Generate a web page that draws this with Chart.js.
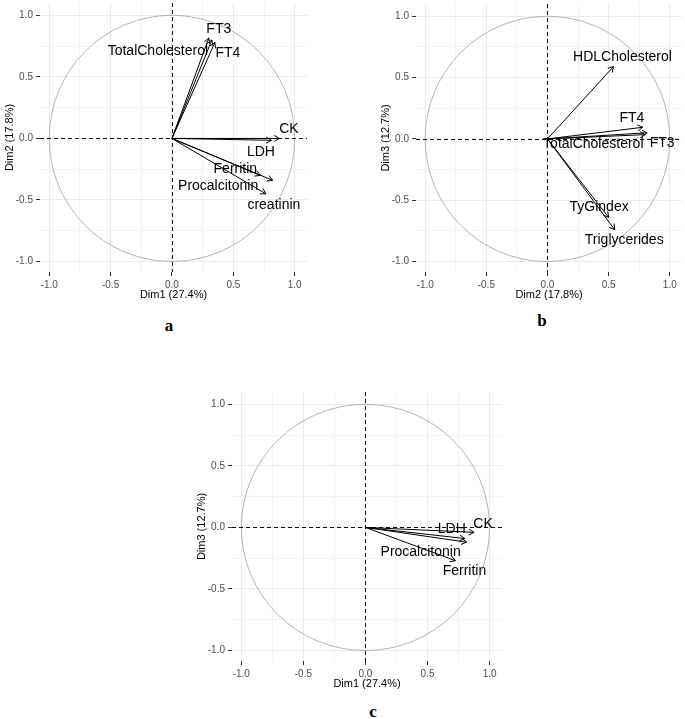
<!DOCTYPE html>
<html>
<head>
<meta charset="utf-8">
<script src="https://cdn.jsdelivr.net/npm/chart.js@4.4.1/dist/chart.umd.min.js"></script>
<style>
  body { margin: 0; background: #fff; width: 685px; height: 719px; position: relative; overflow: hidden; }
  canvas { position: absolute; }
  .tag { position: absolute; width: 30px; text-align: center; line-height: 16px;
         font: bold 17px "Liberation Serif", "Times New Roman", serif; color: #000; }
</style>
</head>
<body>
<canvas id="pa" width="310" height="300" style="left:0;top:0"></canvas>
<canvas id="pb" width="309" height="300" style="left:376px;top:0"></canvas>
<canvas id="pc" width="313" height="300" style="left:192px;top:389px"></canvas>
<div class="tag" style="left:154px;top:316px">a</div>
<div class="tag" style="left:527px;top:311px">b</div>
<div class="tag" style="left:358px;top:702px">c</div>
<script>
// ticks shared by every panel
const majorTicks = [-1, -0.5, 0, 0.5, 1];
const minorTicks = [-0.75, -0.25, 0.25, 0.75];

// panel a: Dim1 vs Dim2
const namesA = ['FT3', 'TotalCholesterol', 'FT4', 'CK', 'LDH', 'Ferritin', 'Procalcitonin', 'creatinin'];
const dim1A = [0.30, 0.325, 0.35, 0.875, 0.81, 0.72, 0.82, 0.765];
const dim2A = [0.815, 0.80, 0.78, 0.00, -0.015, -0.30, -0.34, -0.45];

// panel b: Dim2 vs Dim3
const namesB = ['HDLCholesterol', 'FT4', 'FT3', 'TotalCholesterol', 'TyGindex', 'Triglycerides'];
const dim2B = [0.54, 0.78, 0.815, 0.80, 0.50, 0.55];
const dim3B = [0.59, 0.095, 0.05, 0.035, -0.64, -0.74];

// panel c: Dim1 vs Dim3
const namesC = ['CK', 'LDH', 'Procalcitonin', 'Ferritin'];
const dim1C = [0.875, 0.80, 0.815, 0.725];
const dim3C = [-0.04, -0.09, -0.12, -0.27];

// label placement (pixel offset of label centre from arrow tip)
const labelOffA = [[10, -9], [-54, 11.5], [13, 10.5], [9.5, -9], [-10.5, 11.5], [-25, -6], [-54.5, 6], [8, 11]];
const labelOffB = [[9, -9], [-11, -9.5], [15, 10.5], [-52, 9.5], [-9.5, -10], [9.5, 10.5]];
const labelOffC = [[9, -8], [-13, -9], [-46, 9.5], [9, 10]];

const FONT = '"Liberation Sans", Arial, sans-serif';
const allTicks = majorTicks.concat(minorTicks).sort((a, b) => a - b);
const isMajor = v => majorTicks.some(m => Math.abs(m - v) < 1e-9);

const circlePlugin = {
  id: 'circle',
  beforeDatasetsDraw(chart) {
    const { ctx, chartArea: a, scales: { x, y } } = chart;
    const cx = x.getPixelForValue(0), cy = y.getPixelForValue(0);
    const rx = x.getPixelForValue(1) - cx, ry = cy - y.getPixelForValue(1);
    ctx.save();
    ctx.strokeStyle = '#ABABAB';
    ctx.lineWidth = 0.9;
    ctx.beginPath();
    ctx.ellipse(cx, cy, rx, ry, 0, 0, Math.PI * 2);
    ctx.stroke();
    ctx.strokeStyle = '#111';
    ctx.lineWidth = 1;
    ctx.setLineDash([4, 3]);
    ctx.beginPath();
    ctx.moveTo(a.left, Math.round(cy) + 0.5);
    ctx.lineTo(a.right, Math.round(cy) + 0.5);
    ctx.moveTo(Math.round(cx) + 0.5, a.top);
    ctx.lineTo(Math.round(cx) + 0.5, a.bottom);
    ctx.stroke();
    ctx.restore();
  }
};

const arrowPlugin = {
  id: 'arrows',
  afterDatasetsDraw(chart, args, opts) {
    const { ctx } = chart;
    ctx.save();
    chart.data.datasets.forEach((ds, i) => {
      const pts = chart.getDatasetMeta(i).data;
      const p0 = pts[0], p1 = pts[1];
      const ang = Math.atan2(p1.y - p0.y, p1.x - p0.x);
      const len = 6, spread = Math.PI / 6;
      ctx.strokeStyle = '#000';
      ctx.lineWidth = 1;
      ctx.beginPath();
      ctx.moveTo(p1.x - len * Math.cos(ang - spread), p1.y - len * Math.sin(ang - spread));
      ctx.lineTo(p1.x, p1.y);
      ctx.lineTo(p1.x - len * Math.cos(ang + spread), p1.y - len * Math.sin(ang + spread));
      ctx.stroke();
      const off = opts.offsets[i];
      ctx.fillStyle = '#000';
      ctx.font = '14px ' + FONT;
      ctx.textAlign = 'center';
      ctx.textBaseline = 'middle';
      ctx.fillText(ds.label, p1.x + off[0], p1.y + off[1]);
    });
    ctx.restore();
  }
};

function axis(title, pos) {
  return {
    type: 'linear',
    position: pos,
    min: pos === 'bottom' ? -1.075 : -1.085,
    max: 1.1,
    afterBuildTicks: s => { s.ticks = allTicks.map(v => ({ value: v })); },
    afterFit: s => {
      if (pos === 'bottom') s.height = 28; else s.width = 40;
      s.paddingTop = 0; s.paddingBottom = 0; s.paddingLeft = 0; s.paddingRight = 0;
    },
    border: { display: false },
    grid: {
      color: c => isMajor(c.tick.value) ? '#EBEBEB' : '#F4F4F4',
      lineWidth: 1,
      tickColor: c => isMajor(c.tick.value) ? '#333' : 'rgba(0,0,0,0)',
      tickLength: 4,
      tickWidth: 1
    },
    ticks: {
      autoSkip: false,
      maxRotation: 0,
      padding: 3,
      color: '#4D4D4D',
      font: { family: FONT, size: 10 },
      callback: v => isMajor(v) ? v.toFixed(1) : ''
    },
    title: {
      display: true,
      text: title,
      color: '#000',
      padding: { top: 4, bottom: 0 },
      font: { family: FONT, size: 11, lineHeight: 1 }
    }
  };
}

function panel(id, names, xs, ys, offsets, xTitle, yTitle, padTop) {
  const datasets = names.map((n, i) => ({
    label: n,
    data: [{ x: 0, y: 0 }, { x: xs[i], y: ys[i] }],
    showLine: true,
    borderColor: '#000',
    borderWidth: 1,
    pointRadius: 0
  }));
  new Chart(document.getElementById(id), {
    type: 'scatter',
    data: { datasets },
    options: {
      responsive: false,
      animation: false,
      layout: { padding: { left: 0, top: padTop, right: 3, bottom: 0 } },
      plugins: { legend: { display: false }, tooltip: { enabled: false }, arrows: { offsets } },
      scales: { x: axis(xTitle, 'bottom'), y: axis(yTitle, 'left') }
    },
    plugins: [circlePlugin, arrowPlugin]
  });
}

panel('pa', namesA, dim1A, dim2A, labelOffA, 'Dim1 (27.4%)', 'Dim2 (17.8%)', 3);
panel('pb', namesB, dim2B, dim3B, labelOffB, 'Dim2 (17.8%)', 'Dim3 (12.7%)', 4);
panel('pc', namesC, dim1C, dim3C, labelOffC, 'Dim1 (27.4%)', 'Dim3 (12.7%)', 3);
</script>
</body>
</html>
